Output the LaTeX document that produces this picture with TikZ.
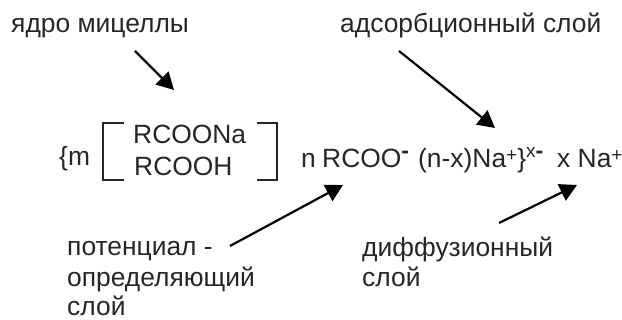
\documentclass[tikz,border=0pt]{standalone}
\usepackage{fontspec}
\setmainfont{Liberation Sans}
\usetikzlibrary{arrows.meta}
\newcommand{\upidx}[2]{\raisebox{#1}{\fontsize{19}{19}\selectfont #2}}
\newcommand{\updash}{\raisebox{9.5pt}{\fontsize{23}{23}\selectfont\textbf{-}}}
\tikzset{
  lbl/.style={anchor=base west,inner sep=0pt,text=black!85,font=\fontsize{26.4}{26.4}\selectfont},
  ptr/.style={line width=2.2pt,-{Triangle[length=17pt,width=18pt]}},
  brk/.style={line width=1.3pt,black!85}
}
\begin{document}
\begin{tikzpicture}[x=1pt,y=-1pt]
  \useasboundingbox (0,0) rectangle (622,320);
  \node[lbl] (core) at (11,33) {ядро мицеллы};
  \node[lbl] (ads) at (340,33) {адсорбционный слой};
  \node[lbl] (m) at (59,166) {\{m};
  \node[lbl] (acid) at (133,144) {RCOONa};
  \node[lbl] (salt) at (134,176) {RCOOH};
  \node[lbl] (n) at (301,168) {n\hspace{-1pt} RCOO\updash};
  \node[lbl] (ion) at (418,168) {(n-x)Na\upidx{6pt}{+}\}\upidx{10pt}{x}\updash};
  \node[lbl] (x) at (557,168) {x Na\upidx{6pt}{+}};
  \node[lbl] (pot) at (67,256) {потенциал -};
  \node[lbl] (def) at (67,287) {определяющий};
  \node[lbl] (sl) at (67,316) {слой};
  \node[lbl] (dif) at (362,257) {диффузионный};
  \node[lbl] (sl2) at (362,287) {слой};
  \coordinate (a1) at (135,51);
  \coordinate (a2) at (174,90);
  \coordinate (b1) at (399,51);
  \coordinate (b2) at (495,128);
  \coordinate (c1) at (230,246);
  \coordinate (c2) at (343,185);
  \coordinate (d1) at (499,223);
  \coordinate (d2) at (577,185);
  \draw[ptr] (a1) -- (a2);
  \draw[ptr] (b1) -- (b2);
  \draw[ptr] (c1) -- (c2);
  \draw[ptr] (d1) -- (d2);
  % brackets
  \draw[brk] (124,123) -- (103,123) -- (103,180) -- (124,180);
  \draw[brk] (257,123) -- (277,123) -- (277,180) -- (257,180);
\end{tikzpicture}
\end{document}
